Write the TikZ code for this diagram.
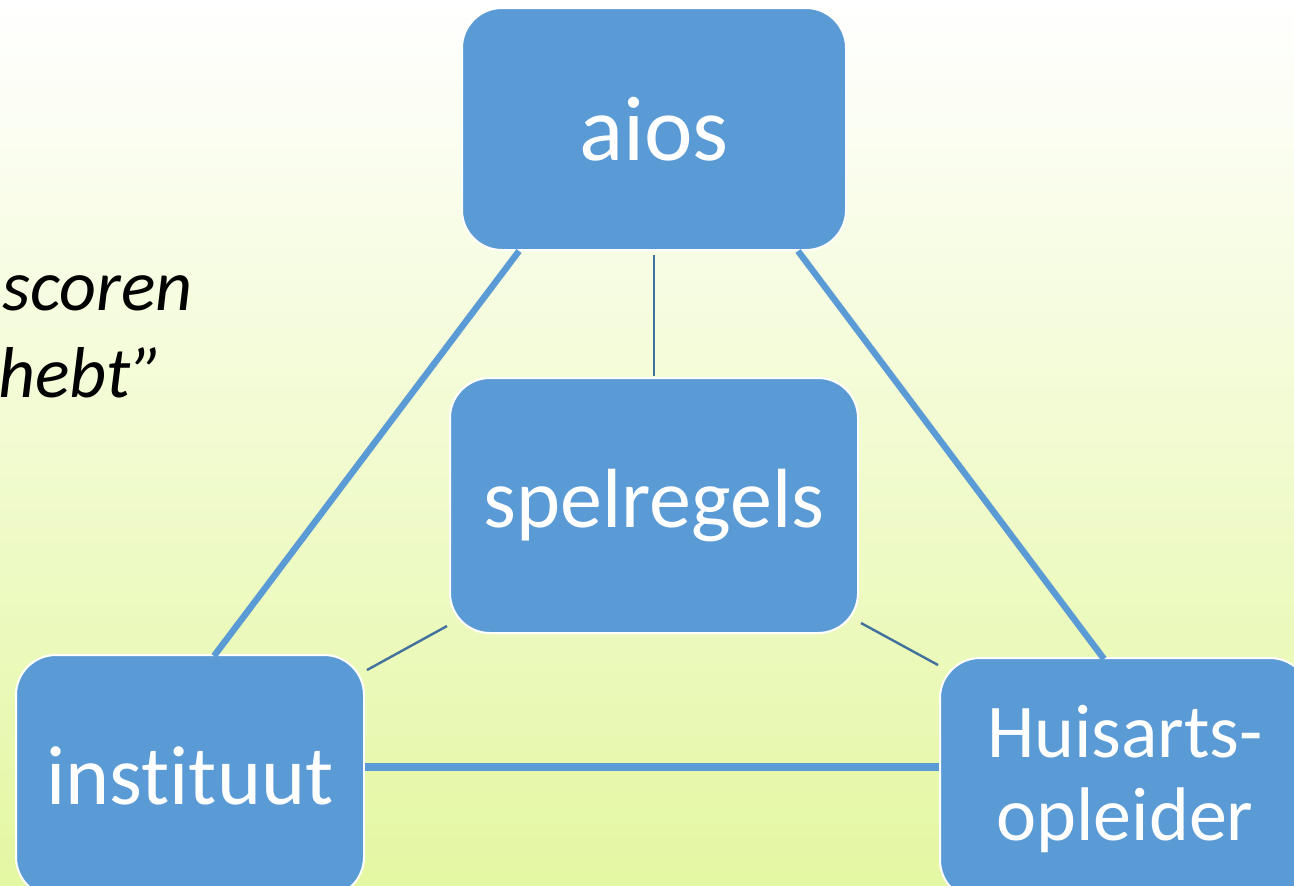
\documentclass[tikz,border=0pt]{standalone}
\usepackage{fontspec}
\setmainfont[Ligatures=NoCommon]{Carlito}
\usetikzlibrary{calc}
\definecolor{boxblue}{HTML}{5B9BD5}
\definecolor{darkline}{HTML}{41719C}
\definecolor{bgbottom}{HTML}{E4F7A2}
\definecolor{bgmid}{HTML}{F7FCE8}
\tikzset{
  box/.style={rectangle, rounded corners=20pt, fill=boxblue, draw=white, line width=1pt,
    text=white, align=center, inner sep=0pt, font=\fontsize{42}{50}\selectfont},
  thickline/.style={boxblue, line width=3.2pt},
  thinline/.style={darkline, line width=1.2pt},
  quote/.style={anchor=base west, inner sep=0pt, font=\fontsize{36}{43}\selectfont\itshape, text=black}
}
\begin{document}
\begin{tikzpicture}[x=0.5pt, y=-0.5pt]
\useasboundingbox (0,0) rectangle (1294,885);
\clip (0,0) rectangle (1294,885);
\shade[top color=white, middle color=bgmid, bottom color=bgbottom] (0,0) rectangle (1294,885);

\node[quote] (q1) at (2,310) {scoren};
\node[quote] (q2) at (-2,397) {hebt”};

\node[box, minimum width=192pt, minimum height=121pt, font=\fontsize{46}{50}\selectfont] (aios) at (654,129) {aios};
\node[box, minimum width=204pt, minimum height=127.5pt] (spel) at (654,505.5) {spelregels};
\node[box, minimum width=174pt, minimum height=121pt] (inst) at (190,776) {instituut};
\node[box, minimum width=185pt, minimum height=121pt, font=\fontsize{38}{41.5}\selectfont] (huis) at (1125,779) {Huisarts-\\opleider};

\coordinate (hl) at (0,767);
\draw[thickline] ($(aios.south west)+(58,0)$) -- ($(inst.north west)+(199,2)$);
\draw[thickline] ($(aios.south east)+(-49,0)$) -- ($(huis.north west)+(165,2)$);
\draw[thickline, line width=3.6pt] (inst.east |- hl) -- (huis.west |- hl);

\draw[thinline] ($(aios.south)+(0,4)$) -- ($(spel.north)+(0,-1)$);
\draw[thinline] ($(spel.south west)+(-2,-8)$) -- ($(inst.north east)+(2,16)$);
\draw[thinline] ($(spel.south east)+(2,-11)$) -- ($(huis.north west)+(-1,8)$);
\end{tikzpicture}
\end{document}
